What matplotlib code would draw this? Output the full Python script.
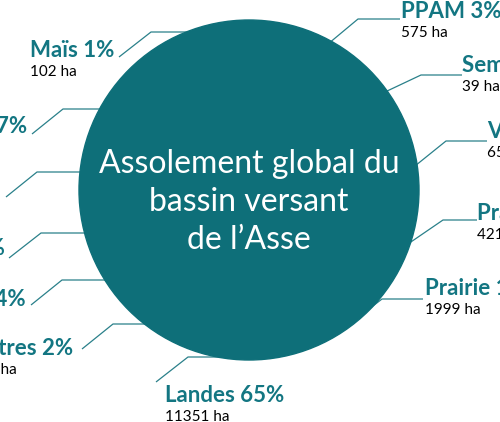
import matplotlib.pyplot as plt
from matplotlib.patches import Circle

# ── Données : assolement du bassin versant de l'Asse ─────────────────────────
categories = ["Maïs", "Céréales", "Tournesol", "Lavandin", "Oléagineux", "Autres",
              "Landes", "Prairie", "Prairie temporaire", "Vignes", "Semences", "PPAM"]
percents = [1, 7, 0, 1, 4, 2, 65, 11, 2, 4, 0, 3]
hectares = [102, 1215, 30, 160, 699, 349, 11351, 1999, 421, 652, 39, 575]
title_lines = ["Assolement global du", "bassin versant", "de l’Asse"]

# ── Mise en page (pixels, origine en haut à gauche) ──────────────────────────
side = ["L", "L", "L", "L", "L", "L", "B", "R", "R", "R", "R", "R"]
text_x = [114, 27, -4, 5, 26, 73, 165, 425, 477, 487, 462, 401]
text_y = [57, 133, 197, 255, 306, 355, 402, 295, 220, 138, 72, 18]
leaders = [
    [(119, 57), (151, 32), (249, 32)],
    [(32, 134), (63, 109), (249, 109)],
    [(6, 197), (37, 172), (249, 172)],
    [(9, 258), (41, 233), (249, 233)],
    [(31, 305), (62, 280), (249, 280)],
    [(82, 349), (113, 324), (249, 324)],
    [(156, 382), (188, 357), (249, 357)],
    [(423, 299), (382, 299), (360, 316)],
    [(477, 220), (443, 220), (405, 246)],
    [(487, 141), (446, 141), (410, 170)],
    [(462, 75), (421, 75), (385, 92)],
    [(400, 19), (358, 19), (322, 49)],
]
title_y = [173, 211, 249]

TEAL = "#0e6f79"
LABEL = "#137682"
LINE = "#2a808a"

fig = plt.figure(figsize=(5.0, 4.22), dpi=100)
ax = fig.add_axes([0, 0, 1, 1])
ax.set_xlim(0, 500)
ax.set_ylim(422, 0)
ax.axis("off")

ax.add_patch(Circle((249, 190), 170, color=TEAL, zorder=3))
for line, y in zip(title_lines, title_y):
    ax.text(249, y, line, color="white", fontsize=23, family="Lato",
            ha="center", va="baseline", zorder=4)

for pts in leaders:
    xs, ys = zip(*pts)
    ax.plot(xs, ys, color=LINE, lw=0.9, zorder=2, solid_capstyle="butt")

mains = []
for i, cat in enumerate(categories):
    ha = "right" if side[i] == "L" else "left"
    t = ax.text(text_x[i], text_y[i], f"{cat} {percents[i]}%", color=LABEL,
                fontsize=16, family="Lato", fontweight="bold", ha=ha, va="baseline")
    mains.append(t)

# sous-titres (surface) alignés à gauche sur le libellé
fig.canvas.draw()
inv = ax.transData.inverted()
for i, t in enumerate(mains):
    x0 = inv.transform(t.get_window_extent().p0)[0]
    ax.text(x0, text_y[i] + 19, f"{hectares[i]} ha", color="black",
            fontsize=11, family="Lato", ha="left", va="baseline")

fig.savefig("out.png", dpi=100)
